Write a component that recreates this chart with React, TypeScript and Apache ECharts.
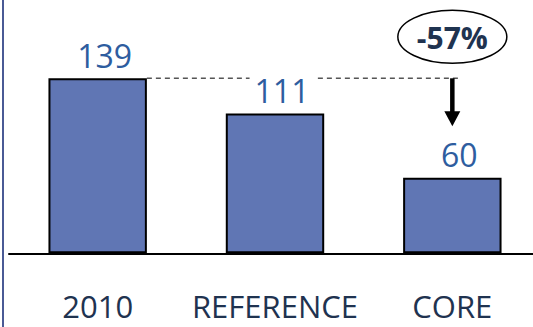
import React, { useEffect, useRef } from "react";
import * as echarts from "echarts";

const categories = ["2010", "REFERENCE", "CORE"];
const values = [139, 111, 60];
const changeLabel = "-57%";

export default function App() {
  const ref = useRef<HTMLDivElement>(null);
  useEffect(() => {
    const chart = echarts.init(ref.current!, null, { renderer: "svg" });
    const font = "'Open Sans', 'Noto Sans', sans-serif";
    chart.setOption({
      animation: false,
      grid: { left: 9, width: 532, top: 1.5, bottom: 73.7, outerBoundsMode: "none", containLabel: false },
      xAxis: {
        type: "category",
        data: categories,
        axisLine: { show: true, lineStyle: { color: "#000", width: 2 } },
        axisTick: { show: false },
        axisLabel: {
          color: "#1f3350",
          fontSize: 31,
          fontFamily: font,
          margin: 42,
          lineHeight: 22,
          interval: 0,
          offset: [-3, 0],
        },
      },
      yAxis: { type: "value", min: 0, max: 200, show: false, splitLine: { show: false } },
      series: [
        {
          type: "bar",
          data: values,
          barWidth: "55.5%",
          itemStyle: { color: "#6076b4", borderColor: "#000", borderWidth: 2 },
          label: {
            show: true,
            position: "top",
            distance: 7,
            offset: [7, 0],
            color: "#2e5d9f",
            fontSize: 32,
            fontFamily: font,
            backgroundColor: "#fff",
            padding: [0, 5, 0, 5],
          },
        },
      ],
    });
    const p0 = chart.convertToPixel({ seriesIndex: 0 }, [0, values[0]]) as number[];
    const p1 = chart.convertToPixel({ seriesIndex: 0 }, [1, values[0]]) as number[];
    const p2 = chart.convertToPixel({ seriesIndex: 0 }, [2, values[0]]) as number[];
    const band = p1[0] - p0[0];
    const bw = band * 0.555;
    const yTop = p0[1];
    const ax = p2[0];
    chart.setOption({
      graphic: [
        {
          type: "line",
          shape: { x1: 3, y1: 0, x2: 3, y2: 327 },
          style: { stroke: "#4a5a95", lineWidth: 2 },
        },
        {
          type: "line",
          shape: { x1: p0[0] + bw / 2, y1: yTop, x2: p2[0] + 7, y2: yTop },
          style: { stroke: "#555", lineWidth: 1.5, lineDash: [5, 4] },
        },
        {
          type: "line",
          shape: { x1: ax, y1: yTop, x2: ax, y2: yTop + 35 },
          style: { stroke: "#000", lineWidth: 4.5 },
        },
        {
          type: "polygon",
          shape: { points: [[ax - 8, yTop + 33], [ax + 8, yTop + 33], [ax, yTop + 48]] },
          style: { fill: "#000" },
        },
        {
          type: "ellipse",
          shape: { cx: ax, cy: yTop - 41.5, rx: 54.5, ry: 26.5 },
          style: { fill: "#fff", stroke: "#000", lineWidth: 1.5 },
        },
        {
          type: "text",
          x: ax,
          y: yTop - 40.5,
          style: {
            text: changeLabel,
            fill: "#1f3350",
            font: `bold 30px ${font}`,
            align: "center",
            verticalAlign: "middle",
          },
        },
      ],
    });
    return () => chart.dispose();
  }, []);
  return <div ref={ref} style={{ width: 533, height: 327, position: "absolute", left: 0, top: 0 }} />;
}
